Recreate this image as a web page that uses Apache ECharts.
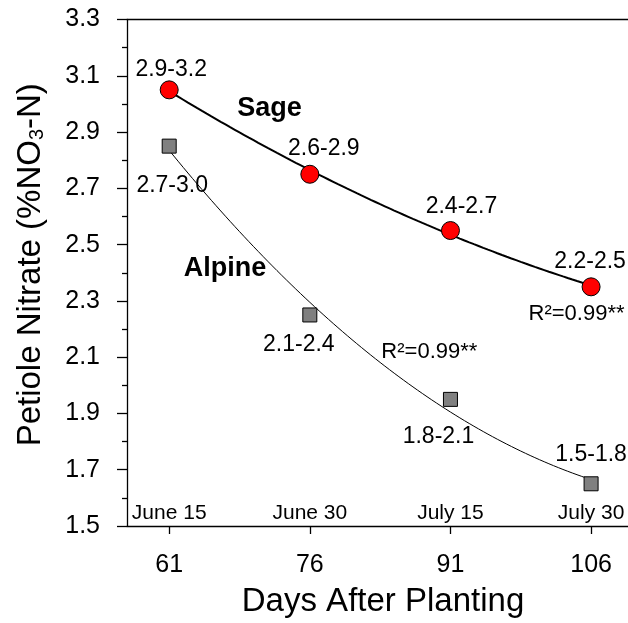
<!DOCTYPE html>
<html>
<head>
<meta charset="utf-8">
<script src="https://cdn.jsdelivr.net/npm/echarts@6/dist/echarts.min.js"></script>
<style>
  html, body { margin: 0; padding: 0; background: #ffffff; }
  #chart { width: 628px; height: 623px; }
</style>
</head>
<body>
<div id="chart"></div>
<script>
// Sampling days (days after planting) and matching calendar dates
const days = [61, 76, 91, 106];
const dates = ['June 15', 'June 30', 'July 15', 'July 30'];

// Mean petiole nitrate (% NO3-N) per cultivar
const sageNitrate = [3.05, 2.75, 2.55, 2.35];
const alpineNitrate = [2.85, 2.25, 1.95, 1.65];

// Sufficiency ranges printed next to each sample
const sageRanges = ['2.9-3.2', '2.6-2.9', '2.4-2.7', '2.2-2.5'];
const alpineRanges = ['2.7-3.0', '2.1-2.4', '1.8-2.1', '1.5-1.8'];

// Y axis tick values
const yMajorTicks = [1.5, 1.7, 1.9, 2.1, 2.3, 2.5, 2.7, 2.9, 3.1, 3.3];
const yMinorTicks = [1.6, 1.8, 2.0, 2.2, 2.4, 2.6, 2.8, 3.0, 3.2];

// Text annotations: [text, day, nitrate, style]
const notes = [
  ['Sage', 71.7, 2.985, 'name'],
  ['Alpine', 66.95, 2.414, 'name'],
  ['R\u00B2=0.99**', 104.45, 2.255, 'fit'],
  ['R\u00B2=0.99**', 88.75, 2.118, 'fit']
];

// Label nudges (px) relative to each marker centre
const sageLabelShift = [[2, -20], [14, -26], [11, -24], [-1, -25]];
const alpineLabelShift = [[3, 40], [-11, 30], [-12, 37], [0, -29]];

// Least-squares quadratic fit y = a + b*x + c*x^2 (x centred for stability)
function quadFit(xs, ys) {
  const n = xs.length;
  const mx = xs.reduce((s, v) => s + v, 0) / n;
  let S = [0, 0, 0, 0, 0], T = [0, 0, 0];
  xs.forEach((x0, i) => {
    const x = x0 - mx, y = ys[i];
    let p = 1;
    for (let k = 0; k <= 4; k++) { S[k] += p; if (k <= 2) T[k] += p * y; p *= x; }
  });
  // Solve 3x3 normal equations with Cramer's rule
  const M = [[S[0], S[1], S[2]], [S[1], S[2], S[3]], [S[2], S[3], S[4]]];
  const det = m => m[0][0] * (m[1][1] * m[2][2] - m[1][2] * m[2][1])
                 - m[0][1] * (m[1][0] * m[2][2] - m[1][2] * m[2][0])
                 + m[0][2] * (m[1][0] * m[2][1] - m[1][1] * m[2][0]);
  const D = det(M);
  const coef = [0, 1, 2].map(j => det(M.map((row, r) => row.map((v, c) => c === j ? T[r] : v))) / D);
  return x => { const t = x - mx; return coef[0] + coef[1] * t + coef[2] * t * t; };
}

function fitCurve(xs, ys) {
  const f = quadFit(xs, ys);
  const lo = xs[0], hi = xs[xs.length - 1], steps = 90;
  const out = [];
  for (let i = 0; i <= steps; i++) {
    const x = lo + (hi - lo) * i / steps;
    out.push([x, f(x)]);
  }
  return out;
}

const FONT = '"Liberation Sans", Arial, Helvetica, sans-serif';
const X_MIN = 56.5, X_MAX = 112.07;
const axisBase = { type: 'value', min: X_MIN, max: X_MAX, splitLine: { show: false } };

const chart = echarts.init(document.getElementById('chart'), null, { renderer: 'canvas' });

const option = {
  backgroundColor: '#ffffff',
  animation: false,
  textStyle: { fontFamily: FONT, color: '#000' },
  grid: { left: 127, top: 19.5, right: -20, bottom: 97, outerBoundsMode: 'none', containLabel: false },
  xAxis: [
    Object.assign({}, axisBase, {
      position: 'bottom',
      name: 'Days After Planting',
      nameLocation: 'middle',
      nameGap: 59,
      nameTextStyle: { fontSize: 33, color: '#000', fontFamily: FONT, padding: [0, 9, 0, 0] },
      axisLine: { show: true, lineStyle: { color: '#000', width: 1.3 } },
      axisTick: { show: true, inside: false, length: 8, customValues: days, lineStyle: { color: '#000', width: 1.3 } },
      axisLabel: { show: true, customValues: days, fontSize: 25, color: '#000', margin: 27, fontFamily: FONT }
    }),
    Object.assign({}, axisBase, {
      position: 'bottom',
      axisLine: { show: false },
      axisTick: { show: false },
      axisLabel: {
        show: true, inside: true, customValues: days, margin: 2, fontSize: 21, color: '#000', fontFamily: FONT,
        formatter: v => dates[days.indexOf(v)] || ''
      }
    }),
    Object.assign({}, axisBase, {
      position: 'top',
      axisLine: { show: true, lineStyle: { color: '#000', width: 1.3 } },
      axisTick: { show: false },
      axisLabel: { show: false }
    })
  ],
  yAxis: [
    {
      type: 'value', min: 1.5, max: 3.3, position: 'left',
      splitLine: { show: false },
      name: '{t|Petiole Nitrate (%NO}{s|3}{t|-N)}',
      nameLocation: 'middle',
      nameRotate: 90,
      nameGap: 80,
      nameTextStyle: {
        fontFamily: FONT, color: '#000', padding: [0, 0, 0, 16],
        rich: {
          t: { fontSize: 33, lineHeight: 33, fontFamily: FONT, color: '#000' },
          s: { fontSize: 20, lineHeight: 20, fontFamily: FONT, color: '#000', verticalAlign: 'bottom', padding: [24, 0, 0, 0] }
        }
      },
      axisLine: { show: true, lineStyle: { color: '#000', width: 1.3 } },
      axisTick: { show: true, inside: false, length: 10, customValues: yMajorTicks, lineStyle: { color: '#000', width: 1.3 } },
      axisLabel: {
        show: true, customValues: yMajorTicks, fontSize: 25, color: '#000', margin: 27, fontFamily: FONT,
        formatter: v => v.toFixed(1)
      }
    },
    {
      type: 'value', min: 1.5, max: 3.3, position: 'left',
      splitLine: { show: false },
      axisLine: { show: false },
      axisTick: { show: true, inside: false, length: 5, customValues: yMinorTicks, lineStyle: { color: '#000', width: 1.3 } },
      axisLabel: { show: false }
    }
  ],
  series: [
    {
      name: 'Sage fit', type: 'line', xAxisIndex: 0, yAxisIndex: 0,
      data: fitCurve(days, sageNitrate),
      showSymbol: false, smooth: false, silent: true, z: 2,
      lineStyle: { color: '#000', width: 2 }
    },
    {
      name: 'Alpine fit', type: 'line', xAxisIndex: 0, yAxisIndex: 0,
      data: fitCurve(days, alpineNitrate),
      showSymbol: false, smooth: false, silent: true, z: 2,
      lineStyle: { color: '#000', width: 1 }
    },
    {
      name: 'Sage', type: 'scatter', xAxisIndex: 0, yAxisIndex: 0, z: 3,
      symbol: 'circle', symbolSize: 18,
      itemStyle: { color: '#ff0000', borderColor: '#000', borderWidth: 1, opacity: 1 },
      data: days.map((d, i) => ({
        value: [d, sageNitrate[i]],
        label: { offset: sageLabelShift[i] }
      })),
      label: {
        show: true, position: 'inside', fontSize: 23, color: '#000', fontFamily: FONT,
        formatter: p => sageRanges[p.dataIndex]
      }
    },
    {
      name: 'Alpine', type: 'scatter', xAxisIndex: 0, yAxisIndex: 0, z: 3,
      symbol: 'rect', symbolSize: 14,
      itemStyle: { color: '#808080', borderColor: '#000', borderWidth: 1, opacity: 1 },
      data: days.map((d, i) => ({
        value: [d, alpineNitrate[i]],
        label: { offset: alpineLabelShift[i] }
      })),
      label: {
        show: true, position: 'inside', fontSize: 23, color: '#000', fontFamily: FONT,
        formatter: p => alpineRanges[p.dataIndex]
      }
    },
    {
      name: 'notes', type: 'scatter', xAxisIndex: 0, yAxisIndex: 0, z: 4,
      symbolSize: 0, silent: true,
      itemStyle: { color: '#000', opacity: 1 },
      data: notes.map(n => ({
        value: [n[1], n[2]],
        label: n[3] === 'name'
          ? { fontSize: 27, fontWeight: 'bold', color: '#000' }
          : { fontSize: 22, fontWeight: 'normal', color: '#000' }
      })),
      label: {
        show: true, position: 'inside', color: '#000', fontFamily: FONT,
        formatter: p => notes[p.dataIndex][0]
      }
    }
  ]
};

chart.setOption(option);
</script>
</body>
</html>
